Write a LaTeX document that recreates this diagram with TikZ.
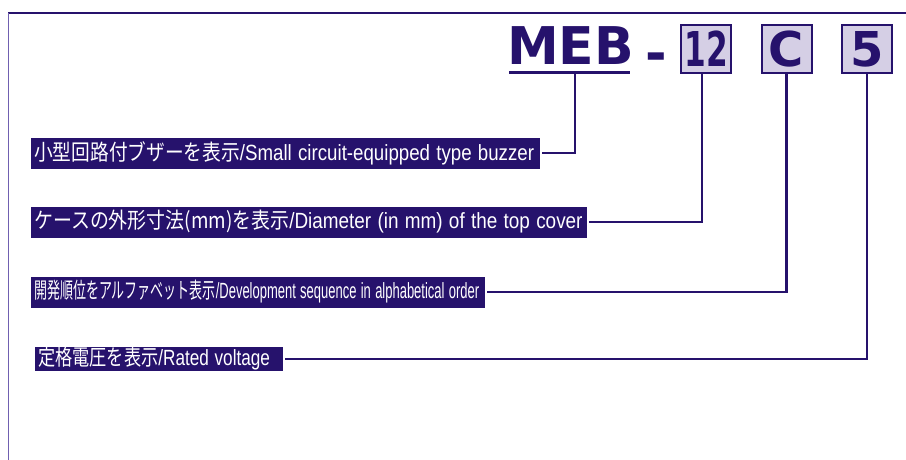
\documentclass[tikz,border=0pt]{standalone}
\usepackage{fontspec}
\setmainfont{Liberation Sans}
\newfontfamily\jpfont{Noto Sans CJK JP}
\newfontfamily\codefont{DejaVu Sans}
\usepackage{graphicx}
\usetikzlibrary{positioning}
\definecolor{inknavy}{RGB}{38,18,108}
\definecolor{codefill}{RGB}{213,207,229}
\definecolor{framelilac}{RGB}{112,96,176}

\begin{document}
\begin{tikzpicture}[x=1pt, y=-1pt, line width=2.5pt, inknavy]
			\tikzstyle{codebox}=[draw=inknavy, fill=codefill, line width=2pt, minimum width=50pt, minimum height=48pt, inner sep=0pt, font=\codefont\bfseries\fontsize{48}{48}\selectfont]
			\tikzstyle{partlbl}=[fill=inknavy, text=white, inner xsep=3pt, inner ysep=0pt, minimum height=31pt, anchor=west, align=left, font=\fontsize{22}{22}\selectfont]
			\useasboundingbox (0,0) rectangle (906,460);
			\draw[line width=1.5pt] (8,13) -- (906,13);
			\draw[framelilac, line width=1.5pt] (8.5,13) -- (8.5,460);
			% model code
			\node[anchor=base west, inner sep=0pt, font=\codefont\bfseries\fontsize{52}{52}\selectfont] (MEB) at (506,65) {MEB};
			\draw[line width=3pt] (509,73) -- (630,73);
			\coordinate (MEBFOOT) at (575,74);
			\node[anchor=base, inner sep=0pt, font=\codefont\bfseries\fontsize{52}{52}\selectfont] (DASH) at (656,72) {-};
			\node[codebox] (SIZE) at (706,49) {\scalebox{0.65}[1]{12}};
			\node[codebox] (SEQ) at (786.5,49.5) {C};
			\node[codebox] (VOLT) at (867,49.5) {5};
			% explanations
			\node[partlbl, text width=503pt] (TYPE) at (30,153) {\scalebox{0.85}[1]{\jpfont 小型回路付ブザーを表示\rmfamily/Small circuit-equipped type buzzer}};
			\node[partlbl, text width=550pt] (DIAM) at (30,222) {\scalebox{0.86}[1]{\jpfont ケースの外形寸法(mm)を表示\rmfamily/Diameter (in mm) of the top cover}};
			\node[partlbl, text width=448pt] (ORDER) at (30,292) {\scalebox{0.59}[1]{\jpfont 開発順位をアルファベット表示\rmfamily/Development sequence in alphabetical order}};
			\node[partlbl, text width=242pt, minimum height=24pt] (RATED) at (34,359) {\scalebox{0.78}[1]{\jpfont 定格電圧を表示\rmfamily/Rated voltage}};
			\draw (MEBFOOT) |- (TYPE.east);
			\draw ([xshift=-4pt]SIZE.south) |- (DIAM.east);
			\draw (SEQ.south) |- (ORDER.east);
			\draw (VOLT.south) |- (RATED.east);
		\end{tikzpicture}
\end{document}
